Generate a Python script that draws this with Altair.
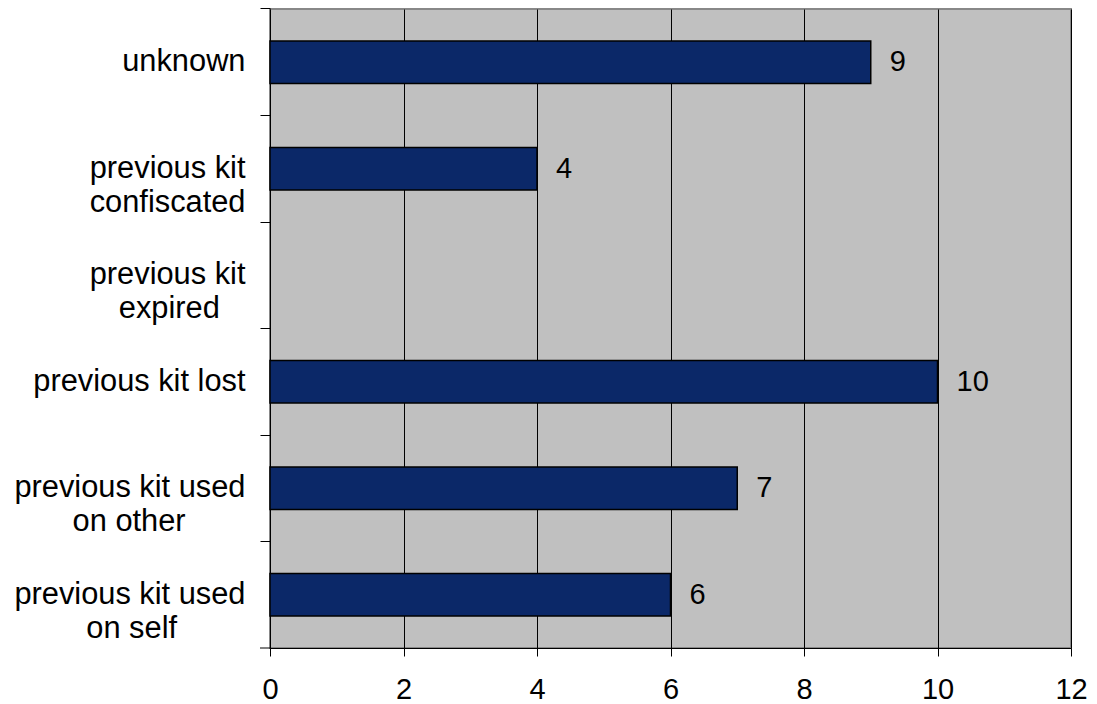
import altair as alt
import pandas as pd

# Reasons given for requesting a new kit, with counts (blank = none reported)
categories = [
    "unknown",
    "previous kit confiscated",
    "previous kit expired",
    "previous kit lost",
    "previous kit used on other",
    "previous kit used on self",
]
counts = [9, 4, None, 10, 7, 6]

# How each category name is split over lines on the axis
label_lines = [
    ["unknown"],
    ["previous kit", "confiscated"],
    ["previous kit", "expired"],
    ["previous kit lost"],
    ["previous kit used", "on other"],
    ["previous kit used", "on self"],
]
x_ticks = [0, 2, 4, 6, 8, 10, 12]

FONT = "Liberation Sans"
AXIS_LABEL_SIZE = 30.8
TICK_LABEL_SIZE = 29
PLOT_W, PLOT_H = 801, 639
Y_TICK = 10

# Approximate Arial advance widths (1/1000 em) used to centre the shorter line
# of a two-line label under the longer one while the block stays right-aligned.
ARIAL_W = {
    "a": 556, "b": 556, "c": 500, "d": 556, "e": 556, "f": 278, "g": 556,
    "h": 556, "i": 222, "j": 222, "k": 500, "l": 222, "m": 833, "n": 556,
    "o": 556, "p": 556, "q": 556, "r": 333, "s": 500, "t": 278, "u": 556,
    "v": 500, "w": 722, "x": 500, "y": 500, "z": 500, " ": 278,
}


def text_width(s):
    return sum(ARIAL_W.get(ch, 556) for ch in s)


def centred_lines(lines):
    # Pad with no-break spaces; a trailing zero-width space keeps Vega's
    # trim() from stripping the padding.
    widest = max(text_width(l) for l in lines)
    out = []
    for l in lines:
        pad = round((widest - text_width(l)) / 2 / ARIAL_W[" "])
        out.append(l + ("\u00a0" * pad + "\u200b" if pad else ""))
    return out


def js_str(s):
    return "'" + s.replace("'", "\\'") + "'"


label_expr = "''"
for cat, lines in reversed(list(zip(categories, label_lines))):
    arr = "[" + ", ".join(js_str(l) for l in centred_lines(lines)) + "]"
    label_expr = f"datum.value == {js_str(cat)} ? {arr} : ({label_expr})"

df = pd.DataFrame({"reason": categories, "count": counts})

# Ticks sit on the boundaries between categories (start of each step)
y_enc = alt.Y(
    "reason:N",
    sort=categories,
    scale=alt.Scale(domain=categories, paddingInner=0.6, paddingOuter=0.3),
    axis=alt.Axis(
        title=None,
        labelExpr=label_expr,
        labelAlign="right",
        labelBaseline="middle",
        labelFont=FONT,
        labelFontSize=AXIS_LABEL_SIZE,
        labelColor="black",
        labelLineHeight=34,
        labelPadding=15,
        labelLimit=400,
        tickSize=Y_TICK,
        tickColor="black",
        bandPosition=-0.75,
        domainColor="black",
        grid=False,
    ),
)

x_enc = alt.X(
    "count:Q",
    scale=alt.Scale(domain=[0, 12], nice=False),
    axis=alt.Axis(
        title=None,
        values=x_ticks,
        format="d",
        labelFont=FONT,
        labelFontSize=TICK_LABEL_SIZE,
        labelColor="black",
        labelPadding=19,
        labelFlush=False,
        tickSize=8,
        tickColor="black",
        domainColor="black",
        grid=True,
        gridColor="black",
        gridWidth=1,
    ),
)

bars = alt.Chart(df).mark_bar(
    color="#0B2868", stroke="black", strokeWidth=1.5
).encode(x=x_enc, y=y_enc)

labels = alt.Chart(df).transform_filter(
    "isValid(datum.count)"
).mark_text(
    align="left", baseline="middle", dx=19, font=FONT, fontSize=TICK_LABEL_SIZE, color="black"
).encode(
    x=alt.X("count:Q"),
    y=alt.Y("reason:N", sort=categories),
    text=alt.Text("count:Q", format="d"),
)

# Closing tick of the category axis at the bottom edge
end_tick = alt.Chart(pd.DataFrame({"k": [0]})).mark_rule(
    color="black", strokeWidth=1
).encode(
    x=alt.value(-Y_TICK), x2=alt.value(0), y=alt.value(PLOT_H)
)

chart = (
    alt.layer(bars, labels, end_tick)
    .properties(
        width=PLOT_W,
        height=PLOT_H,
        autosize=alt.AutoSizeParams(type="none"),
        padding={"left": 270, "top": 9, "right": 26, "bottom": 56},
        background="white",
    )
    .configure_view(fill="#C0C0C0", stroke="#888888", strokeWidth=2)
)

chart.save("out.html", embed_options={"renderer": "svg", "actions": False})
